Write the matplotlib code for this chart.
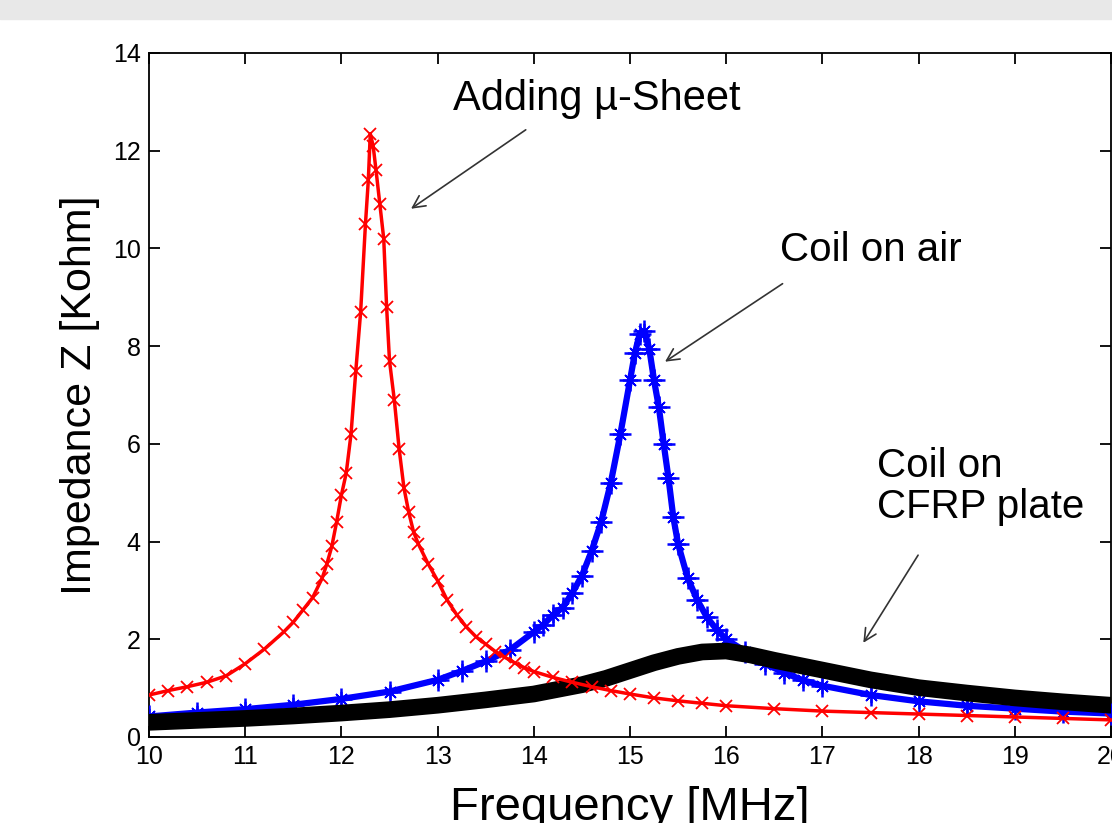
import matplotlib
matplotlib.use("Agg")
from matplotlib import pyplot as plt
from matplotlib.patches import Rectangle

plt.rcParams["font.family"] = ["Liberation Sans", "DejaVu Sans"]

# Adding u-sheet (red)
f_red = [10.0, 10.2, 10.4, 10.6, 10.8, 11.0, 11.2, 11.4, 11.5, 11.6, 11.7, 11.8,
         11.85, 11.9, 11.95, 12.0, 12.05, 12.1, 12.15, 12.2, 12.25, 12.28, 12.3,
         12.33, 12.36, 12.4, 12.44, 12.47, 12.5, 12.55, 12.6, 12.65, 12.7, 12.75,
         12.8, 12.9, 13.0, 13.1, 13.2, 13.3, 13.4, 13.5, 13.6, 13.7, 13.8, 13.9,
         14.0, 14.2, 14.4, 14.6, 14.8, 15.0, 15.25, 15.5, 15.75, 16.0, 16.5, 17.0,
         17.5, 18.0, 18.5, 19.0, 19.5, 20.0]
z_red = [0.86, 0.95, 1.03, 1.12, 1.25, 1.5, 1.8, 2.15, 2.35, 2.6, 2.85, 3.25,
         3.55, 3.9, 4.4, 4.95, 5.4, 6.2, 7.5, 8.7, 10.5, 11.4, 12.35,
         12.1, 11.6, 10.9, 10.2, 8.8, 7.7, 6.9, 5.9, 5.1, 4.6, 4.2,
         3.95, 3.55, 3.2, 2.8, 2.5, 2.25, 2.05, 1.9, 1.75, 1.63, 1.52, 1.42,
         1.34, 1.22, 1.12, 1.03, 0.95, 0.88, 0.8, 0.74, 0.69, 0.64, 0.58, 0.53,
         0.5, 0.47, 0.44, 0.41, 0.38, 0.35]

# Coil on air (blue)
f_blue = [10.0, 10.5, 11.0, 11.5, 12.0, 12.5, 13.0, 13.25, 13.5, 13.75, 14.0,
          14.1, 14.2, 14.3, 14.4, 14.5, 14.6, 14.7, 14.8, 14.9, 15.0, 15.05,
          15.1, 15.15, 15.2, 15.25, 15.3, 15.35, 15.4, 15.45, 15.5, 15.6, 15.7,
          15.8, 15.9, 16.0, 16.2, 16.4, 16.6, 16.8, 17.0, 17.5, 18.0, 18.5,
          19.0, 19.5, 20.0]
z_blue = [0.42, 0.5, 0.57, 0.66, 0.78, 0.93, 1.17, 1.35, 1.55, 1.78, 2.15,
          2.3, 2.5, 2.65, 2.95, 3.3, 3.8, 4.4, 5.2, 6.2, 7.3, 7.85,
          8.25, 8.3, 7.95, 7.3, 6.75, 6.0, 5.3, 4.5, 3.95, 3.25, 2.8,
          2.45, 2.2, 2.0, 1.75, 1.5, 1.32, 1.16, 1.05, 0.86, 0.73, 0.64,
          0.58, 0.52, 0.48]

# Coil on CFRP plate (black)
f_blk = [10.0, 10.5, 11.0, 11.5, 12.0, 12.5, 13.0, 13.5, 14.0, 14.5, 14.75,
         15.0, 15.25, 15.5, 15.75, 16.0, 16.25, 16.5, 16.75, 17.0, 17.5, 18.0,
         18.5, 19.0, 19.5, 20.0]
z_blk = [0.3, 0.34, 0.38, 0.43, 0.49, 0.56, 0.65, 0.76, 0.88, 1.07, 1.2,
         1.36, 1.52, 1.65, 1.74, 1.76, 1.68, 1.57, 1.47, 1.37, 1.17, 1.01,
         0.9, 0.8, 0.72, 0.65]

fig = plt.figure(figsize=(11.12, 8.23), dpi=100)
fig.patches.append(Rectangle((0, 1 - 19 / 823), 1, 19 / 823, transform=fig.transFigure,
                             color="#e8e8e8", zorder=0))
ax = fig.add_axes([149 / 1112, 86 / 823, 962 / 1112, 684 / 823])

# blue band with markers
ax.plot(f_blue, z_blue, color="blue", lw=4.5, zorder=3)
ax.plot(f_blue, z_blue, color="blue", lw=0, marker="+", ms=16, mew=1.8, zorder=3)
ax.plot(f_blue, z_blue, color="blue", lw=0, marker=(8, 2, 0), ms=11, mew=1.2, zorder=3)
# black band drawn over blue
ax.plot(f_blk, z_blk, color="black", lw=12, zorder=3.5)
# red
ax.plot(f_red, z_red, color="red", lw=2.5, zorder=4)
ax.plot(f_red, z_red, color="red", lw=0, marker="x", ms=9, mew=1.3, zorder=4)

ax.set_xlim(10, 20)
ax.set_ylim(0, 14)
ax.set_xticks(range(10, 21))
ax.set_yticks(range(0, 15, 2))
ax.tick_params(direction="in", length=8, width=1.3, labelsize=18, top=True, right=True, pad=6)
for s in ax.spines.values():
    s.set_linewidth(1.3)

ax.set_xlabel("Frequency [MHz]", fontsize=34, labelpad=12)
ax.set_ylabel("Impedance Z [Kohm]", fontsize=31, labelpad=9)

arrow = dict(arrowstyle="->", color="#333333", lw=1.2, mutation_scale=22)
ax.text(14.65, 13.05, "Adding µ-Sheet", fontsize=30, ha="center", va="center")
ax.annotate("", xy=(12.70, 10.78), xytext=(13.94, 12.46), arrowprops=arrow)
ax.text(17.5, 9.96, "Coil on air", fontsize=29, ha="center", va="center")
ax.annotate("", xy=(15.34, 7.65), xytext=(16.61, 9.31), arrowprops=arrow)
ax.text(17.57, 5.12, "Coil on\nCFRP plate", fontsize=29, ha="left", va="center",
        linespacing=1.1)
ax.annotate("", xy=(17.41, 1.88), xytext=(18.01, 3.77), arrowprops=arrow)

fig.savefig("out.png", dpi=100)
